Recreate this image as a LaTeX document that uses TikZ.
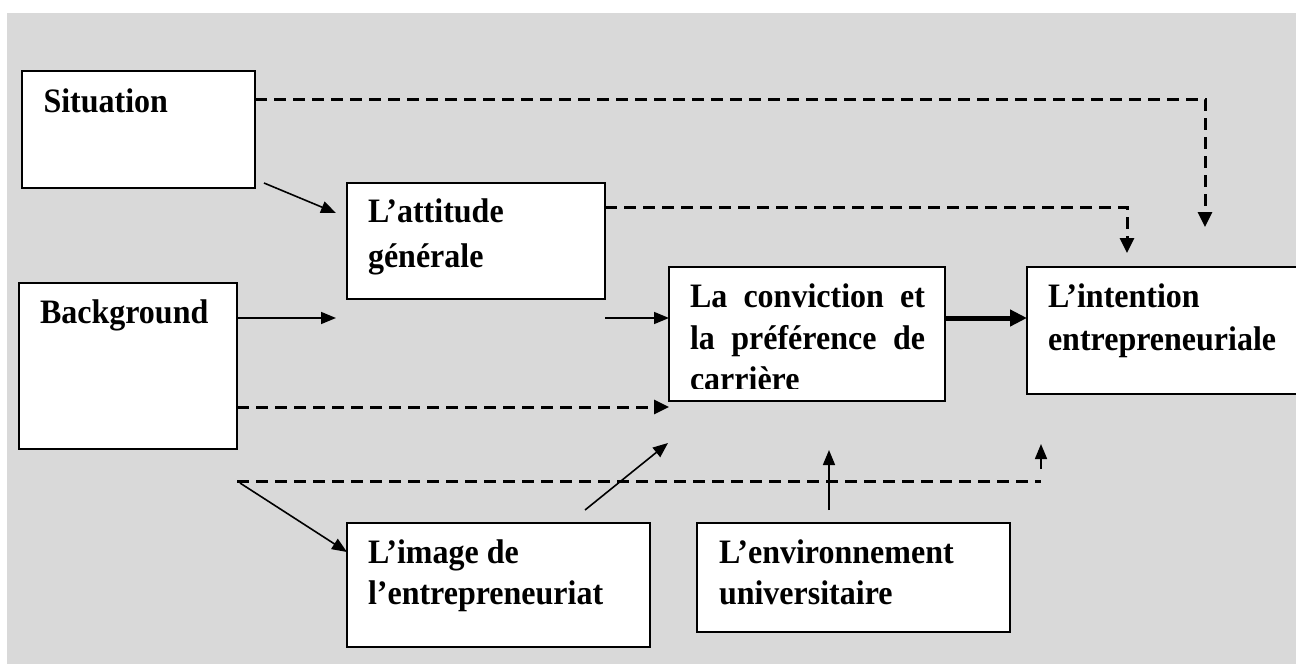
\documentclass[tikz,border=0pt]{standalone}
\usepackage{fontspec}
\usepackage{graphicx}
\setmainfont{Liberation Serif}
\usetikzlibrary{arrows.meta}
\definecolor{bggray}{HTML}{D9D9D9}
\newcommand{\vstretch}[1]{\scalebox{1}[1.07]{#1}}
\begin{document}
\begin{tikzpicture}[x=1pt,y=-1pt,
  box/.style={draw=black,line width=1.8pt,fill=white,rectangle,inner sep=0pt,outer sep=0pt,anchor=north west},
  lbl/.style={anchor=base west,inner sep=0pt,outer sep=0pt,font=\fontsize{32}{40}\selectfont\bfseries},
  solidarr/.style={line width=1.6pt,-{Triangle[length=15pt,width=12pt]}},
  dasharr/.style={line width=3pt,dash pattern=on 12pt off 7pt,-{Triangle[length=15pt,width=14pt]}},
  dashln/.style={line width=3pt,dash pattern=on 12pt off 7pt},
  thickarr/.style={line width=5pt,-{Triangle[length=17pt,width=16pt]}}]
\useasboundingbox (0,0) rectangle (1296,664);
\fill[bggray] (7,13) rectangle (1296,664);

% boxes
\node[box,minimum width=233pt,minimum height=117pt] (sit) at (22,71) {};
\node[box,minimum width=258pt,minimum height=116pt] (att) at (347,183) {};
\node[box,minimum width=218pt,minimum height=166pt] (bkg) at (19,283) {};
\node[box,minimum width=276pt,minimum height=134pt] (conv) at (669,267) {};
\node[box,minimum width=300pt,minimum height=127pt] (intn) at (1027,267) {};
\node[box,minimum width=303pt,minimum height=124pt] (img) at (347,523) {};
\node[box,minimum width=313pt,minimum height=109pt] (env) at (697,523) {};

% texts
\node[lbl] (sitT) at (43.5,112) {\vstretch{Situation}};
\node[lbl] (attT1) at (368,222) {\vstretch{L’attitude}};
\node[lbl] (attT2) at (368,267) {\vstretch{générale}};
\node[lbl] (bkgT) at (40,323) {\vstretch{Background}};
\node[lbl] (convT1) at (690,307) {\vstretch{\makebox[235pt][s]{La conviction et}}};
\node[lbl] (convT2) at (690,349) {\vstretch{\makebox[235pt][s]{la préférence de}}};
\begin{scope}
  \clip (680,355) rectangle (940,388);
  \node[lbl] (convT3) at (690,390) {\vstretch{carrière}};
\end{scope}
\node[lbl] (intnT1) at (1048,307) {\vstretch{L’intention}};
\node[lbl] (intnT2) at (1048,350) {\vstretch{entrepreneuriale}};
\node[lbl] (imgT1) at (368,563) {\vstretch{L’image de}};
\node[lbl] (imgT2) at (368,604) {\vstretch{l’entrepreneuriat}};
\node[lbl] (envT1) at (719,563) {\vstretch{L’environnement}};
\node[lbl] (envT2) at (719,604) {\vstretch{universitaire}};

% connector points
\coordinate (sitOut) at (sit.east |- 0,99);
\coordinate (sitTip) at (1205,227);
\coordinate (sitDiag) at (264,183);
\coordinate (attIn) at (336,213);
\coordinate (attOut) at (att.east |- 0,207);
\coordinate (attTip) at (1127,253);
\coordinate (bkgOut1) at (bkg.east |- 0,318);
\coordinate (bkgTip1) at (336,318);
\coordinate (midStart) at (605,318);
\coordinate (convIn1) at (conv.west |- 0,318);
\coordinate (convOut) at (conv.east |- 0,318);
\coordinate (intnIn) at (intn.west |- 0,318);
\coordinate (bkgOut2) at (bkg.east |- 0,407);
\coordinate (convIn2) at (669,407);
\coordinate (bkgOut3) at (bkg.east |- 0,481);
\coordinate (dashEnd) at (1041,481);
\coordinate (upStart) at (1041,469);
\coordinate (upTip) at (1041,444);
\coordinate (bkgDiag) at (240,483);
\coordinate (imgIn) at (img.west |- 0,552);
\coordinate (imgOut) at (585,510);
\coordinate (convIn3) at (668,443);
\coordinate (envOut) at (829,510);
\coordinate (envTip) at (829,450);

% connectors
\draw[dasharr] (sitOut) -| (sitTip);
\draw[solidarr] (sitDiag) -- (attIn);
\draw[dasharr] (attOut) -| (attTip);
\draw[solidarr] (bkgOut1) -- (bkgTip1);
\draw[solidarr] (midStart) -- (convIn1);
\draw[thickarr] (convOut) -- (intnIn);
\draw[dasharr] (bkgOut2) -- (convIn2);
\draw[dashln] (bkgOut3) -- (dashEnd);
\draw[solidarr] (upStart) -- (upTip);
\draw[solidarr] (bkgDiag) -- (imgIn);
\draw[solidarr] (imgOut) -- (convIn3);
\draw[solidarr] (envOut) -- (envTip);
\end{tikzpicture}
\end{document}
